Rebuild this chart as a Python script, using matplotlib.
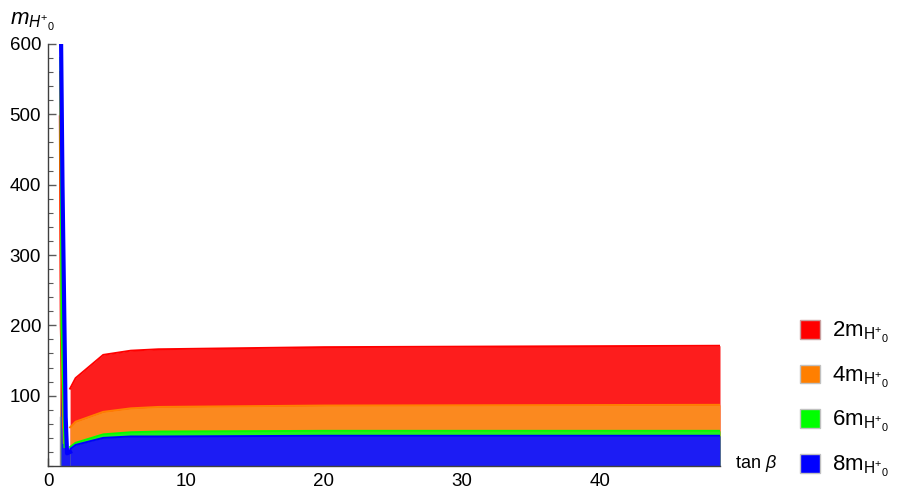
import matplotlib
matplotlib.use("Agg")
import matplotlib.pyplot as plt
from matplotlib.patches import Patch
from matplotlib.ticker import MultipleLocator

plt.rcParams["font.family"] = ["Liberation Sans", "DejaVu Sans"]
plt.rcParams["mathtext.fontset"] = "custom"
plt.rcParams["mathtext.rm"] = "Liberation Sans"
plt.rcParams["mathtext.it"] = "Liberation Sans:italic"

# tan(beta) grid of the smooth branch (beyond the pole near tan beta ~ 1)
TB_MAIN = [1.6, 2, 4, 6, 8, 20, 48.7]
# steep branch close to tan beta ~ 1, one path per curve
TB_SPIKE = {
    "2": [0.86, 0.865, 0.93, 1.1],
    "4": [0.88, 0.885, 0.96, 1.15],
    "6": [0.9, 0.905, 0.99, 1.2],
    "8": [0.92, 0.925, 1.05, 1.28, 1.38, 1.6],
}
M_SPIKE = {
    "2": [0, 497, 200, 55],
    "4": [0, 560, 200, 33],
    "6": [0, 580, 200, 27],
    "8": [0, 650, 400, 70, 18, 20],
}
M_MAIN = {
    "2": [110, 125, 158, 164, 166, 169, 171],
    "4": [55, 63, 77, 82, 84, 86, 87],
    "6": [27, 33, 45, 48, 49, 50, 50],
    "8": [24, 30, 40, 42, 42, 43, 43],
}
FILL = {"2": "#fd1d1d", "4": "#fb891f", "6": "#1ef41e", "8": "#1c1cf4"}
LINE = {"2": "#ff0000", "4": "#ff7f00", "6": "#00ff00", "8": "#0000ff"}
ORDER = ["2", "4", "6", "8"]

fig = plt.figure(figsize=(8.98, 4.93), dpi=100)
ax = fig.add_axes([48 / 898, 27 / 493, 672 / 898, 422 / 493])

for k in ORDER:
    ax.fill_between(TB_SPIKE[k], M_SPIKE[k], 0, color=FILL[k], lw=0, zorder=2)
    ax.fill_between(TB_MAIN, M_MAIN[k], 0, color=FILL[k], lw=0, zorder=2)
for k in ORDER:
    ax.plot(TB_SPIKE[k][1:], M_SPIKE[k][1:], color=LINE[k],
            lw=3.0 if k == "8" else 1.6, zorder=3, solid_joinstyle="round")
    ax.plot(TB_MAIN, M_MAIN[k], color=LINE[k], lw=1.4, zorder=3)
ax.plot([0.86, 0.86], [0, 70], color="0.55", lw=1, zorder=4)

ax.set_xlim(0, 48.7)
ax.set_ylim(0, 600)
for s in ("top", "right"):
    ax.spines[s].set_visible(False)
for s in ("left", "bottom"):
    ax.spines[s].set_color("0.25")
    ax.spines[s].set_linewidth(1.0)
ax.xaxis.set_major_locator(MultipleLocator(10))
ax.xaxis.set_minor_locator(MultipleLocator(2))
ax.yaxis.set_major_locator(MultipleLocator(100))
ax.yaxis.set_minor_locator(MultipleLocator(20))
ax.tick_params(which="both", direction="in", color="0.35", labelsize=13.5, pad=5)
ax.tick_params(which="major", length=6, width=1)
ax.tick_params(which="minor", length=3.5, width=0.8)
ax.set_yticks([100, 200, 300, 400, 500, 600])
ax.set_xticks([0, 10, 20, 30, 40])

fig.text(10 / 898, 1 - 22 / 493, r"$m_{H^{+}{}_{0}}$", fontsize=16, va="center", ha="left")
fig.text(735 / 898, 1 - 463 / 493, r"tan $\beta$", fontsize=13, va="center", ha="left")

handles = [Patch(facecolor=LINE[k], edgecolor="#c9a0a0" if k == "2" else "#c0c0c0", lw=1)
           for k in ORDER]
labels = [k + r"m$_{\mathrm{H^{+}{}_{0}}}$" for k in ORDER]
fig.legend(handles, labels, loc="upper left", bbox_to_anchor=(800 / 898, 1 - 320 / 493),
           frameon=False, fontsize=16, handlelength=0.9, handleheight=0.9,
           handletextpad=0.55, labelspacing=0.88, borderaxespad=0, borderpad=0)

fig.savefig("out.png", dpi=100)
